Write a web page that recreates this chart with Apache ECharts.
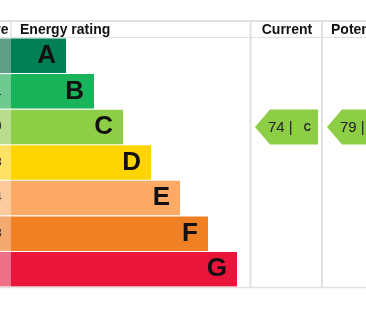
<!DOCTYPE html>
<html>
<head>
<meta charset="utf-8">
<script src="https://cdn.jsdelivr.net/npm/echarts@6/dist/echarts.min.js"></script>
<style>
html,body{margin:0;padding:0;background:#fff;}
#c{width:366px;height:311px;}
</style>
</head>
<body>
<div id="c"></div>
<script>
// ---- data ----
var ratings = ['A', 'B', 'C', 'D', 'E', 'F', 'G'];
var barLengths = [55, 83, 112, 140, 169, 197, 226];
var scoreRanges = ['92+', '81-91', '69-80', '55-68', '39-54', '21-38', '1-20'];
var currentScore = 74, currentRating = 'C';
var potentialScore = 79, potentialRating = 'C';
var headers = ['Score', 'Energy rating', 'Current', 'Potential'];

// ---- styles ----
var colors = ['#008054', '#19b459', '#8dce46', '#ffd500', '#fcaa65', '#ef8023', '#e9153b'];
var lightColors = ['#5f9f86', '#6fca92', '#b8dd8c', '#ffe263', '#fdca9e', '#f4aa6e', '#f06f88'];
var FONT = 'Liberation Sans, Arial, sans-serif';
var LINE = '#e0e0e0';

var chart = echarts.init(document.getElementById('c'));

function arrowSeries(gridIdx, score, rating) {
  return {
    type: 'custom',
    xAxisIndex: gridIdx, yAxisIndex: gridIdx,
    data: [[score, rating]],
    renderItem: function (params, api) {
      var ci = ratings.indexOf(rating);
      var pt = api.coord([0, ci]);
      var band = api.size([0, 1])[1];
      var h = band * 0.985;
      var cs = params.coordSys;
      var tip = cs.x + 5, right = cs.x + 68;
      var top = pt[1] - h / 2, bot = pt[1] + h / 2;
      return {
        type: 'group',
        children: [
          { type: 'polygon', shape: { points: [[tip, pt[1]], [tip + 15, top], [right, top], [right, bot], [tip + 15, bot]] },
            style: { fill: colors[ci] } },
          { type: 'text', style: { x: tip + 13, y: pt[1] + 1, text: api.value(0) + ' |', font: '15px ' + FONT, fill: '#222', verticalAlign: 'middle', align: 'left' } },
          { type: 'text', style: { x: right - 7, y: pt[1] + 1, text: rating, font: 'bold 10px ' + FONT, fill: '#222', verticalAlign: 'middle', align: 'right' } }
        ]
      };
    }
  };
}

var gTop = 38, gH = 249;
var option = {
  animation: false,
  grid: [
    { left: 11, top: gTop, width: 355, height: gH },
    { left: 0, top: gTop, width: 11, height: gH },
    { left: 250, top: gTop, width: 72, height: gH },
    { left: 322, top: gTop, width: 72, height: gH }
  ],
  xAxis: [
    { gridIndex: 0, type: 'value', min: 0, max: 355, show: false },
    { gridIndex: 1, type: 'value', min: 0, max: 1, show: false },
    { gridIndex: 2, type: 'value', min: 0, max: 72, show: false },
    { gridIndex: 3, type: 'value', min: 0, max: 72, show: false }
  ],
  yAxis: [0, 1, 2, 3].map(function (i) {
    return { gridIndex: i, type: 'category', data: ratings, inverse: true, show: false };
  }),
  graphic: [
    { type: 'line', shape: { x1: 0, y1: 21, x2: 366, y2: 21 }, style: { stroke: LINE, lineWidth: 2 }, z: 10 },
    { type: 'line', shape: { x1: 0, y1: 37.5, x2: 366, y2: 37.5 }, style: { stroke: LINE, lineWidth: 1 }, z: 10 },
    { type: 'line', shape: { x1: 0, y1: 287.5, x2: 366, y2: 287.5 }, style: { stroke: LINE, lineWidth: 1.5 }, z: 10 },
    { type: 'line', shape: { x1: 11, y1: 20, x2: 11, y2: 38 }, style: { stroke: LINE, lineWidth: 1.5 }, z: 10 },
    { type: 'line', shape: { x1: 250.5, y1: 20, x2: 250.5, y2: 288 }, style: { stroke: LINE, lineWidth: 2 }, z: 10 },
    { type: 'line', shape: { x1: 322, y1: 20, x2: 322, y2: 288 }, style: { stroke: LINE, lineWidth: 2 }, z: 10 },
    { type: 'text', style: { x: 8.5, y: 30, text: headers[0], font: 'bold 14px ' + FONT, fill: '#111', align: 'right', verticalAlign: 'middle' } },
    { type: 'text', style: { x: 20, y: 30, text: headers[1], font: 'bold 14px ' + FONT, fill: '#111', align: 'left', verticalAlign: 'middle' } },
    { type: 'text', style: { x: 287, y: 30, text: headers[2], font: 'bold 14px ' + FONT, fill: '#111', align: 'center', verticalAlign: 'middle' } },
    { type: 'text', style: { x: 331, y: 30, text: headers[3], font: 'bold 14px ' + FONT, fill: '#111', align: 'left', verticalAlign: 'middle' } }
  ],
  series: [
    {
      type: 'bar', xAxisIndex: 0, yAxisIndex: 0,
      barCategoryGap: '3%',
      data: barLengths.map(function (v, i) { return { value: v, itemStyle: { color: colors[i] } }; }),
      label: {
        show: true, position: 'insideRight', distance: 10,
        formatter: function (p) { return ratings[p.dataIndex]; },
        fontFamily: FONT, fontWeight: 'bold', fontSize: 26, color: '#111'
      }
    },
    {
      type: 'bar', xAxisIndex: 1, yAxisIndex: 1,
      barCategoryGap: '3%',
      data: scoreRanges.map(function (s, i) { return { value: 1, itemStyle: { color: lightColors[i] } }; }),
      label: {
        show: true, position: 'insideLeft', distance: 5, offset: [-34, 0], align: 'left',
        formatter: function (p) { return scoreRanges[p.dataIndex]; },
        fontFamily: FONT, fontSize: 12, color: '#333'
      }
    },
    arrowSeries(2, currentScore, currentRating),
    arrowSeries(3, potentialScore, potentialRating)
  ]
};
chart.setOption(option);
</script>
</body>
</html>
